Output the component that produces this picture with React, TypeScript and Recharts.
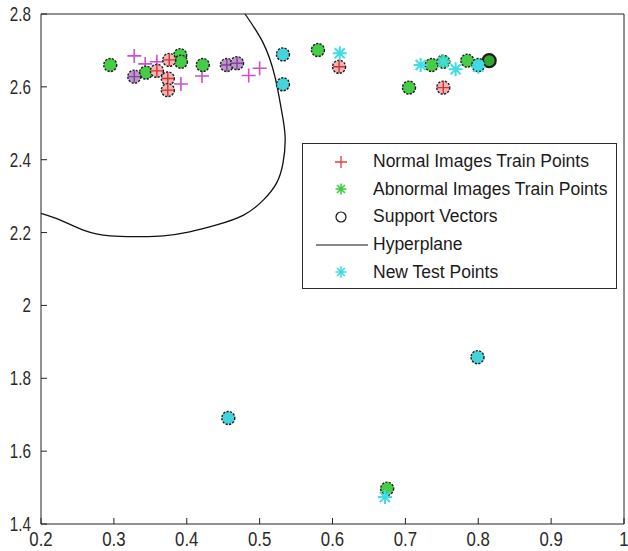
import React from "react";
import { ScatterChart, Scatter, XAxis, YAxis, Legend } from "recharts";

// ---------------------------------------------------------------------------
// Data
// ---------------------------------------------------------------------------

const xTicks = [0.2, 0.3, 0.4, 0.5, 0.6, 0.7, 0.8, 0.9, 1];
const yTicks = [1.4, 1.6, 1.8, 2, 2.2, 2.4, 2.6, 2.8];

// normal train points that are not support vectors (plain "+")
const normalPoints = [
  { x: 0.328, y: 2.685 },
  { x: 0.343, y: 2.663 },
  { x: 0.359, y: 2.669 },
  { x: 0.392, y: 2.608 },
  { x: 0.421, y: 2.63 },
  { x: 0.485, y: 2.631 },
  { x: 0.5, y: 2.651 },
];

// normal train points circled as support vectors
const normalSupport = [
  { x: 0.359, y: 2.644 },
  { x: 0.376, y: 2.674 },
  { x: 0.374, y: 2.623 },
  { x: 0.374, y: 2.591 },
  { x: 0.609, y: 2.655 },
  { x: 0.752, y: 2.598 },
];

// normal points under a test circle (purple look)
const mixedSupport = [
  { x: 0.328, y: 2.628 },
  { x: 0.455, y: 2.66 },
  { x: 0.469, y: 2.665 },
];

// abnormal train points (all circled)
const abnormalSupport = [
  { x: 0.295, y: 2.66 },
  { x: 0.344, y: 2.639 },
  { x: 0.391, y: 2.687 },
  { x: 0.392, y: 2.669 },
  { x: 0.422, y: 2.66 },
  { x: 0.58, y: 2.701 },
  { x: 0.705, y: 2.598 },
  { x: 0.736, y: 2.66 },
  { x: 0.752, y: 2.669 },
  { x: 0.785, y: 2.672 },
  { x: 0.675, y: 1.497 },
];

// circled twice, drawn with a heavier outline
const abnormalDouble = [{ x: 0.815, y: 2.672 }];

const testCircled = [
  { x: 0.532, y: 2.689 },
  { x: 0.532, y: 2.607 },
  { x: 0.8, y: 2.66 },
  { x: 0.457, y: 1.691 },
  { x: 0.799, y: 1.858 },
];

const testStars = [
  { x: 0.61, y: 2.692 },
  { x: 0.721, y: 2.66 },
  { x: 0.752, y: 2.669 },
  { x: 0.769, y: 2.648 },
  { x: 0.8, y: 2.655 },
  { x: 0.672, y: 1.474 },
];

const hyperplane = [
  { x: 0.48, y: 2.8 },
  { x: 0.505, y: 2.72 },
  { x: 0.521, y: 2.628 },
  { x: 0.53, y: 2.536 },
  { x: 0.535, y: 2.463 },
  { x: 0.532, y: 2.39 },
  { x: 0.523, y: 2.335 },
  { x: 0.505, y: 2.289 },
  { x: 0.478, y: 2.248 },
  { x: 0.441, y: 2.221 },
  { x: 0.404, y: 2.202 },
  { x: 0.368, y: 2.191 },
  { x: 0.336, y: 2.189 },
  { x: 0.295, y: 2.191 },
  { x: 0.258, y: 2.207 },
  { x: 0.226, y: 2.235 },
  { x: 0.2, y: 2.253 },
];

const legendItems = [
  { label: "Normal Images Train Points", symbol: "plus", color: "#e03c3c" },
  { label: "Abnormal Images Train Points", symbol: "star", color: "#3ccc3c" },
  { label: "Support Vectors", symbol: "circle", color: "#111" },
  { label: "Hyperplane", symbol: "line", color: "#111" },
  { label: "New Test Points", symbol: "star", color: "#40dce4" },
];

// ---------------------------------------------------------------------------
// Marker shapes
// ---------------------------------------------------------------------------

const FONT = "'Liberation Sans', Arial, sans-serif";
const AXIS = "#222";
const TICK_LEN = 6;
const X_MARGIN = 7;
const Y_MARGIN = 10;

const plusPath = (cx: number, cy: number, s: number) =>
  `M${cx - s},${cy}H${cx + s}M${cx},${cy - s}V${cy + s}`;

const starPath = (cx: number, cy: number, s: number) => {
  const d = s * 0.72;
  return (
    plusPath(cx, cy, s) +
    `M${cx - d},${cy - d}L${cx + d},${cy + d}M${cx - d},${cy + d}L${cx + d},${cy - d}`
  );
};

const circled =
  (fill: string, plus?: string, heavy = false) =>
  (props: any) => {
    const { cx, cy } = props;
    return (
      <g>
        <circle
          cx={cx}
          cy={cy}
          r={6.5}
          fill={fill}
          stroke="#1c1c1c"
          strokeWidth={heavy ? 2.2 : 1.4}
          strokeDasharray={heavy ? undefined : "2.2 1.3"}
        />
        {plus && (
          <path d={plusPath(cx, cy, 6)} stroke={plus} strokeWidth={1.4} />
        )}
      </g>
    );
  };

const PlusShape = (props: any) => (
  <path d={plusPath(props.cx, props.cy, 7)} stroke="#cc4fcc" strokeWidth={1.6} />
);

const StarShape = (props: any) => (
  <path d={starPath(props.cx, props.cy, 7)} stroke="#40dce4" strokeWidth={2} />
);

const NoShape = () => <g />;

// ---------------------------------------------------------------------------
// Ticks (MATLAB style: tick marks point into the plot)
// ---------------------------------------------------------------------------

const XTick = (props: any) => {
  const { x, y, payload } = props;
  const axisY = y - X_MARGIN;
  return (
    <g>
      <line x1={x} y1={axisY} x2={x} y2={axisY - TICK_LEN} stroke={AXIS} />
      <text
        transform={`translate(${x},${y}) scale(0.8,1)`}
        textAnchor="middle"
        dy="0.72em"
        fontSize={21}
        fontFamily={FONT}
        fill="#2a2a2a"
      >
        {payload.value}
      </text>
    </g>
  );
};

const YTick = (props: any) => {
  const { x, y, payload } = props;
  const axisX = x + Y_MARGIN;
  return (
    <g>
      <line x1={axisX} y1={y} x2={axisX + TICK_LEN} y2={y} stroke={AXIS} />
      <text
        transform={`translate(${x},${y}) scale(0.78,1)`}
        textAnchor="end"
        dy="0.36em"
        fontSize={19.5}
        fontFamily={FONT}
        fill="#2a2a2a"
      >
        {payload.value}
      </text>
    </g>
  );
};

const TopTick = (props: any) => {
  const { x, y } = props;
  return <line x1={x} y1={y} x2={x} y2={y + TICK_LEN} stroke={AXIS} />;
};

const RightTick = (props: any) => {
  const { x, y } = props;
  return <line x1={x} y1={y} x2={x - TICK_LEN} y2={y} stroke={AXIS} />;
};

// ---------------------------------------------------------------------------
// Legend
// ---------------------------------------------------------------------------

const LegendSymbol = ({ symbol, color }: { symbol: string; color: string }) => {
  if (symbol === "line") {
    return (
      <svg width={66} height={28} style={{ display: "block" }}>
        <line x1={13} y1={14} x2={65} y2={14} stroke={color} strokeWidth={1.2} />
      </svg>
    );
  }
  return (
    <svg width={66} height={28} style={{ display: "block" }}>
      {symbol === "plus" && (
        <path d={plusPath(38, 14, 6)} stroke={color} strokeWidth={1.3} />
      )}
      {symbol === "star" && (
        <path d={starPath(38, 14, 5.5)} stroke={color} strokeWidth={1.6} />
      )}
      {symbol === "circle" && (
        <circle cx={38} cy={14} r={5} fill="none" stroke={color} strokeWidth={1.2} />
      )}
    </svg>
  );
};

const LegendBox = () => (
  <div
    style={{
      border: "1px solid #2a2a2a",
      background: "#fff",
      boxSizing: "border-box",
      width: 315,
      height: 146,
      paddingTop: 4,
      fontFamily: FONT,
      fontSize: 17.5,
      color: "#1a1a1a",
    }}
  >
    {legendItems.map((it) => (
      <div
        key={it.label}
        style={{ display: "flex", alignItems: "center", height: 27.6 }}
      >
        <LegendSymbol symbol={it.symbol} color={it.color} />
        <span style={{ marginLeft: 4, whiteSpace: "nowrap" }}>{it.label}</span>
      </div>
    ))}
  </div>
);

// ---------------------------------------------------------------------------
// Chart
// ---------------------------------------------------------------------------

export default function App() {
  return (
    <div
      style={{
        position: "absolute",
        left: 0,
        top: 0,
        width: 628,
        height: 551,
        background: "#fff",
      }}
    >
      <ScatterChart
        width={628}
        height={551}
        margin={{ top: 0, right: 0, bottom: 0, left: 0 }}
      >
        <XAxis
          xAxisId="b"
          type="number"
          dataKey="x"
          domain={[0.2, 1]}
          ticks={xTicks}
          interval={0}
          height={27}
          tickSize={0}
          tickMargin={X_MARGIN}
          tickLine={false}
          tick={<XTick />}
          stroke={AXIS}
        />
        <XAxis
          xAxisId="t"
          orientation="top"
          type="number"
          domain={[0.2, 1]}
          ticks={xTicks}
          interval={0}
          height={14}
          tickSize={0}
          tickMargin={0}
          tickLine={false}
          tick={<TopTick />}
          stroke={AXIS}
        />
        <YAxis
          yAxisId="l"
          type="number"
          dataKey="y"
          domain={[1.4, 2.8]}
          ticks={yTicks}
          interval={0}
          width={41}
          tickSize={0}
          tickMargin={Y_MARGIN}
          tickLine={false}
          tick={<YTick />}
          stroke={AXIS}
        />
        <YAxis
          yAxisId="r"
          orientation="right"
          type="number"
          domain={[1.4, 2.8]}
          ticks={yTicks}
          interval={0}
          width={4}
          tickSize={0}
          tickMargin={0}
          tickLine={false}
          tick={<RightTick />}
          stroke={AXIS}
        />

        <Scatter
          name="Hyperplane"
          xAxisId="b"
          yAxisId="l"
          data={hyperplane}
          line={{ stroke: "#111", strokeWidth: 1.3 }}
          lineJointType="natural"
          shape={NoShape}
          isAnimationActive={false}
        />
        <Scatter
          xAxisId="b"
          yAxisId="l"
          data={normalPoints}
          shape={PlusShape}
          isAnimationActive={false}
        />
        <Scatter
          xAxisId="b"
          yAxisId="l"
          data={abnormalSupport}
          shape={circled("#46cc46")}
          isAnimationActive={false}
        />
        <Scatter
          xAxisId="b"
          yAxisId="l"
          data={abnormalDouble}
          shape={circled("#2fa82f", undefined, true)}
          isAnimationActive={false}
        />
        <Scatter
          xAxisId="b"
          yAxisId="l"
          data={normalSupport}
          shape={circled("#f2b4b4", "#d83030")}
          isAnimationActive={false}
        />
        <Scatter
          xAxisId="b"
          yAxisId="l"
          data={mixedSupport}
          shape={circled("#b89ac8", "#8a3c9a")}
          isAnimationActive={false}
        />
        <Scatter
          xAxisId="b"
          yAxisId="l"
          data={testCircled}
          shape={circled("#46d4dc")}
          isAnimationActive={false}
        />
        <Scatter
          xAxisId="b"
          yAxisId="l"
          data={testStars}
          shape={StarShape}
          isAnimationActive={false}
        />

        <Legend
          layout="vertical"
          align="center"
          verticalAlign="middle"
          wrapperStyle={{ left: 302, top: 143, width: 315, height: 146 }}
          content={<LegendBox />}
        />
      </ScatterChart>
    </div>
  );
}
